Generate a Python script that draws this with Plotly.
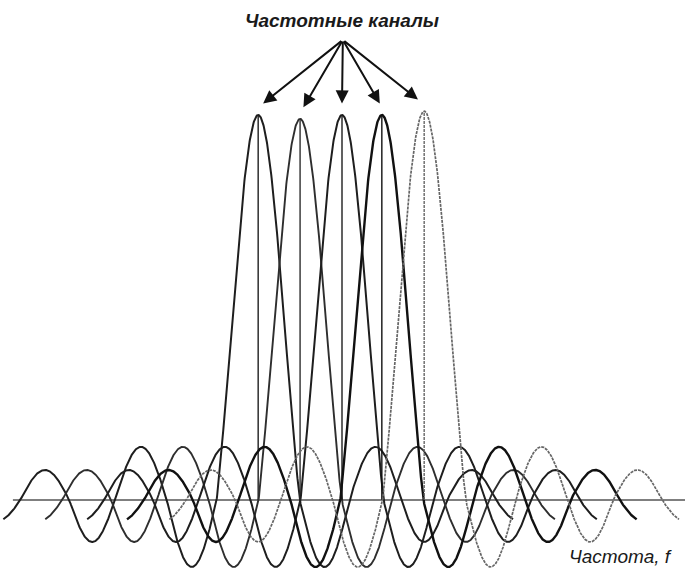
import numpy as np
import plotly.graph_objects as go

# ---- data (frequency in channel-spacing units, amplitude relative to peak) ----
channel_centers = [-2.02, -1.01, 0.0, 0.96, 1.98]
peak_heights = [1.0, 0.99, 1.0, 1.0, 1.01]
arrow_tip_offsets = [0.12, 0.08, 0.0, -0.05, -0.15]
lobe_zeros = [1.0, 2.2, 3.45, 4.55, 5.73, 6.85]      # zero-crossing offsets from each channel centre
lobe_amps = [-0.174, 0.138, -0.109, 0.078, -0.055]    # side-lobe extremes between those zeros
curve_half_span = 6.14
channel_colors = ["#1e1e1e", "#2e2e2e", "#1e1e1e", "#111111", "#666666"]
channel_widths = [2.0, 1.9, 2.0, 2.4, 1.7]
channel_dash = ["solid", "solid", "solid", "solid", "3px,1px"]
title_text = "Частотные каналы"
axis_text = "Частота, f"


def channel_curve(center, peak):
    u = np.linspace(-curve_half_span, curve_half_span, 1500)
    a = np.abs(u)
    y = np.zeros_like(u)
    z0 = lobe_zeros[0]
    main = a < z0
    y[main] = peak * np.sinc(a[main] / z0)
    for i, amp in enumerate(lobe_amps):
        lo, hi = lobe_zeros[i], lobe_zeros[i + 1]
        m = (a >= lo) & (a < hi)
        y[m] = amp * np.sin(np.pi * (a[m] - lo) / (hi - lo))
    return center + u, y


fig = go.Figure()

# baseline
fig.add_trace(go.Scatter(x=[-7.93, 8.3], y=[0, 0], mode="lines",
                         line=dict(color="#555555", width=1.6), hoverinfo="skip"))

for c, p, col, w, d in zip(channel_centers, peak_heights, channel_colors, channel_widths, channel_dash):
    xs, ys = channel_curve(c, p)
    fig.add_trace(go.Scatter(x=xs, y=ys, mode="lines",
                             line=dict(color=col, width=w, dash=d), hoverinfo="skip"))
    fig.add_trace(go.Scatter(x=[c, c], y=[0, p], mode="lines",
                             line=dict(color=col, width=1.4, dash=d), hoverinfo="skip"))

# arrows from the label to each channel peak
tail_x, tail_y = 0.02, 1.195
for c, p, off in zip(channel_centers, peak_heights, arrow_tip_offsets):
    fig.add_annotation(x=c + off, y=p + 0.03, ax=tail_x, ay=tail_y,
                       xref="x", yref="y", axref="x", ayref="y",
                       showarrow=True, arrowhead=2, arrowsize=1.3, arrowwidth=2,
                       arrowcolor="#111111", text="")

fig.add_annotation(x=0.0, y=1.245, xref="x", yref="y", text=title_text, showarrow=False,
                   font=dict(family="Liberation Sans, Arial", size=19,
                             color="#1a1a1a", style="italic", weight="bold"))
fig.add_annotation(x=6.72, y=-0.148, xref="x", yref="y", text=axis_text, showarrow=False,
                   font=dict(family="Liberation Sans, Arial", size=19,
                             color="#1a1a1a", style="italic"))

fig.update_layout(
    width=685, height=573, autosize=False,
    margin=dict(l=0, r=0, t=0, b=0),
    paper_bgcolor="white", plot_bgcolor="white",
    showlegend=False,
    xaxis=dict(range=[(0 - 342) / 41.5, (685 - 342) / 41.5], visible=False, fixedrange=True),
    yaxis=dict(range=[(500 - 573) / 385, (500 - 0) / 385], visible=False, fixedrange=True),
)

fig.write_html("out.html", post_script="document.body.style.margin='0';document.body.style.overflow='hidden';",
               config={"displayModeBar": False})
